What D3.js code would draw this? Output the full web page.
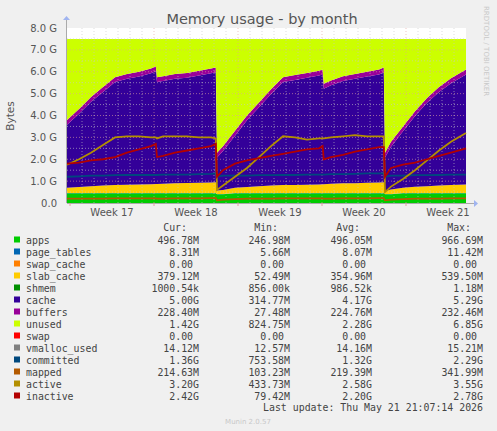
<!DOCTYPE html>
<html>
<head>
<meta charset="utf-8">
<script src="https://cdn.jsdelivr.net/npm/d3@7"></script>
<style>
  body { margin: 0; background: #f0f0f0; }
  text { font-family: 'DejaVu Sans', sans-serif; }
  .mono { font-family: 'DejaVu Sans Mono', monospace; font-size: 9.9px; fill: #444; }
</style>
</head>
<body>
<div class="container"></div>
<script>
// days since the start of the graph
const days = [0, 1, 2, 3, 4, 5, 6, 7, 7.4, 7.5, 8, 9, 10, 11, 12, 12.4, 12.5, 13, 14, 15, 16, 17, 18, 19, 20, 21, 21.3, 21.4, 22, 23, 24, 25, 26, 26.4, 26.5, 27, 28, 29, 30, 31, 32, 33.25];

// values in GB
const apps = [0.45, 0.45, 0.45, 0.45, 0.45, 0.45, 0.45, 0.45, 0.45, 0.45, 0.45, 0.45, 0.45, 0.45, 0.45, 0.45, 0.40, 0.40, 0.45, 0.45, 0.45, 0.45, 0.45, 0.45, 0.45, 0.45, 0.45, 0.45, 0.45, 0.45, 0.45, 0.45, 0.45, 0.45, 0.40, 0.40, 0.45, 0.45, 0.45, 0.45, 0.45, 0.45];
const pageTables = [0.008, 0.008, 0.008, 0.008, 0.008, 0.008, 0.008, 0.008, 0.008, 0.008, 0.008, 0.008, 0.008, 0.008, 0.008, 0.008, 0.006, 0.006, 0.008, 0.008, 0.008, 0.008, 0.008, 0.008, 0.008, 0.008, 0.008, 0.008, 0.008, 0.008, 0.008, 0.008, 0.008, 0.008, 0.006, 0.006, 0.008, 0.008, 0.008, 0.008, 0.008, 0.008];
const slabCache = [0.24, 0.27, 0.31, 0.34, 0.36, 0.38, 0.39, 0.40, 0.41, 0.41, 0.42, 0.44, 0.46, 0.47, 0.48, 0.49, 0.17, 0.19, 0.24, 0.27, 0.31, 0.34, 0.36, 0.37, 0.38, 0.39, 0.40, 0.40, 0.42, 0.44, 0.45, 0.47, 0.48, 0.49, 0.14, 0.21, 0.24, 0.28, 0.31, 0.34, 0.37, 0.39];
const cache = [2.88, 3.35, 3.86, 4.28, 4.71, 4.84, 4.93, 5.07, 5.16, 4.66, 4.70, 4.78, 4.81, 4.90, 4.99, 5.03, 1.50, 1.78, 2.38, 3.05, 3.61, 4.18, 4.71, 4.80, 4.89, 4.98, 5.02, 4.37, 4.50, 4.68, 4.77, 4.85, 4.94, 5.03, 1.53, 1.96, 2.58, 3.24, 3.81, 4.28, 4.65, 5.03];
const buffers = [0.22, 0.22, 0.22, 0.22, 0.22, 0.22, 0.22, 0.22, 0.22, 0.22, 0.22, 0.22, 0.22, 0.22, 0.22, 0.22, 0.22, 0.22, 0.22, 0.22, 0.22, 0.22, 0.22, 0.22, 0.22, 0.22, 0.22, 0.22, 0.22, 0.22, 0.22, 0.22, 0.22, 0.22, 0.22, 0.22, 0.22, 0.22, 0.22, 0.22, 0.22, 0.22];
const totalMem = 7.5;

const committed = [1.2, 1.22, 1.25, 1.25, 1.27, 1.28, 1.28, 1.28, 1.28, 1.28, 1.3, 1.3, 1.3, 1.32, 1.33, 1.35, 1.2, 1.25, 1.25, 1.25, 1.27, 1.27, 1.28, 1.28, 1.3, 1.3, 1.3, 1.3, 1.32, 1.32, 1.33, 1.35, 1.35, 1.35, 1.2, 1.25, 1.25, 1.27, 1.27, 1.28, 1.3, 1.3];
const mapped = [0.2, 0.2, 0.2, 0.2, 0.21, 0.21, 0.21, 0.21, 0.21, 0.2, 0.2, 0.21, 0.21, 0.21, 0.22, 0.22, 0.12, 0.15, 0.18, 0.2, 0.2, 0.2, 0.21, 0.21, 0.21, 0.21, 0.21, 0.2, 0.2, 0.21, 0.21, 0.21, 0.22, 0.22, 0.12, 0.15, 0.18, 0.2, 0.2, 0.2, 0.21, 0.21];
const active = [1.75, 2.0, 2.3, 2.65, 3.0, 3.05, 3.05, 3.0, 3.0, 2.95, 3.05, 3.05, 3.05, 3.0, 3.0, 2.95, 0.6, 0.8, 1.2, 1.6, 2.1, 2.6, 3.05, 3.0, 2.9, 2.95, 2.95, 2.95, 3.0, 3.05, 3.1, 3.05, 3.05, 3.05, 0.5, 0.75, 1.1, 1.5, 1.95, 2.4, 2.8, 3.2];
const inactive = [1.8, 1.85, 1.95, 2.0, 2.1, 2.3, 2.45, 2.6, 2.7, 2.1, 2.15, 2.3, 2.4, 2.5, 2.6, 2.7, 1.2, 1.5, 1.8, 1.95, 2.05, 2.15, 2.25, 2.35, 2.45, 2.5, 2.6, 2.0, 2.1, 2.2, 2.35, 2.45, 2.55, 2.55, 1.2, 1.6, 1.75, 1.85, 2.0, 2.15, 2.3, 2.5];

const weekLabels = ['Week 17', 'Week 18', 'Week 19', 'Week 20', 'Week 21'];
const weekLabelDays = [3.75, 10.75, 17.75, 24.75, 31.75];
const weekStartDays = [0.25, 7.25, 14.25, 21.25, 28.25];
const yTicks = [0, 1, 2, 3, 4, 5, 6, 7, 8];

const legendNames = ['apps', 'page_tables', 'swap_cache', 'slab_cache', 'shmem', 'cache', 'buffers', 'unused', 'swap', 'vmalloc_used', 'committed', 'mapped', 'active', 'inactive'];
const legendColors = ['#00cc00', '#0066b3', '#ff8000', '#ffcc00', '#008f00', '#330099', '#990099', '#ccff00', '#ff0000', '#808080', '#00487d', '#b35a00', '#b38f00', '#b30000'];
const legendCur = ['496.78M', '8.31M', '0.00 ', '379.12M', '1000.54k', '5.00G', '228.40M', '1.42G', '0.00 ', '14.12M', '1.36G', '214.63M', '3.20G', '2.42G'];
const legendMin = ['246.98M', '5.66M', '0.00 ', '52.49M', '856.00k', '314.77M', '27.48M', '824.75M', '0.00 ', '12.57M', '753.58M', '103.23M', '433.73M', '79.42M'];
const legendAvg = ['496.05M', '8.07M', '0.00 ', '354.96M', '986.52k', '4.17G', '224.76M', '2.28G', '0.00 ', '14.16M', '1.32G', '219.39M', '2.58G', '2.20G'];
const legendMax = ['966.69M', '11.42M', '0.00 ', '539.50M', '1.18M', '5.29G', '232.46M', '6.85G', '0.00 ', '15.21M', '2.29G', '341.99M', '3.55G', '2.78G'];

const width = 497;
const height = 431;
const plotL = 67, plotR = 466, plotT = 28, plotB = 203;

const svg = d3.select('.container').append('svg')
  .attr('width', width).attr('height', height);

const x = d3.scaleLinear().domain([0, 33.25]).range([plotL, plotR]);
const y = d3.scaleLinear().domain([0, 8]).range([plotB, plotT]);

svg.append('rect').attr('x', plotL).attr('y', plotT).attr('width', plotR - plotL).attr('height', plotB - plotT).attr('fill', '#fff');

// stacked areas
const rows = days.map((d, i) => ({
  day: d,
  apps: apps[i],
  page_tables: pageTables[i],
  slab_cache: slabCache[i],
  cache: cache[i],
  buffers: buffers[i],
  unused: totalMem - apps[i] - pageTables[i] - slabCache[i] - cache[i] - buffers[i]
}));
const keys = ['apps', 'page_tables', 'slab_cache', 'cache', 'buffers', 'unused'];
const keyColor = { apps: '#00cc00', page_tables: '#0066b3', slab_cache: '#ffcc00', cache: '#330099', buffers: '#990099', unused: '#ccff00' };
const stack = d3.stack().keys(keys)(rows);
const area = d3.area().x((d) => x(d.data.day)).y0((d) => y(d[0])).y1((d) => y(d[1]));
svg.append('g').selectAll('path').data(stack).join('path')
  .attr('d', area).attr('fill', (s) => keyColor[s.key]);

// grid
const grid = svg.append('g');
for (let v = 0.5; v < 8; v += 0.5) {
  const major = Number.isInteger(v);
  grid.append('line').attr('x1', plotL).attr('x2', plotR).attr('y1', y(v)).attr('y2', y(v))
    .attr('stroke', major ? '#e0a0a0' : '#c8c8c8').attr('stroke-width', 0.6).attr('stroke-dasharray', '1,2');
}
for (let d = 1.25; d < 33.25; d += 1) {
  const major = weekStartDays.some((w) => Math.abs(w - d) < 0.01);
  grid.append('line').attr('x1', x(d)).attr('x2', x(d)).attr('y1', plotT).attr('y2', plotB)
    .attr('stroke', major ? '#e0a0a0' : '#c8c8c8').attr('stroke-width', 0.6).attr('stroke-dasharray', '1,2');
}

// lines
const lineSeries = [
  { values: committed, color: '#00487d' },
  { values: mapped, color: '#b35a00' },
  { values: active, color: '#b38f00' },
  { values: inactive, color: '#b30000' }
];
const line = d3.line().x((d, i) => x(days[i])).y((d) => y(d));
svg.append('g').selectAll('path').data(lineSeries).join('path')
  .attr('d', (s) => line(s.values)).attr('fill', 'none')
  .attr('stroke', (s) => s.color).attr('stroke-width', 1.8);

// axes
svg.append('line').attr('x1', plotL).attr('x2', plotR + 8).attr('y1', plotB + 0.5).attr('y2', plotB + 0.5).attr('stroke', '#aaa');
svg.append('line').attr('x1', plotL - 0.5).attr('x2', plotL - 0.5).attr('y1', plotB).attr('y2', plotT - 8).attr('stroke', '#aaa');
svg.append('path').attr('d', `M${plotR + 8},${plotB - 3}L${plotR + 12},${plotB + 0.5}L${plotR + 8},${plotB + 4}Z`).attr('fill', '#a0b4f0');
svg.append('path').attr('d', `M${plotL - 4},${plotT - 8}L${plotL - 0.5},${plotT - 12}L${plotL + 3},${plotT - 8}Z`).attr('fill', '#a0b4f0');

svg.append('g').selectAll('text').data(yTicks).join('text')
  .attr('x', 57).attr('y', (d) => y(d) + 3.5).attr('text-anchor', 'end')
  .attr('font-size', 10).attr('fill', '#555').text((d) => d === 0 ? '0.0' : d.toFixed(1) + ' G');
svg.append('g').selectAll('line').data(weekStartDays).join('line')
  .attr('x1', (d) => x(d)).attr('x2', (d) => x(d)).attr('y1', plotB).attr('y2', plotB + 3).attr('stroke', '#e0a0a0');
svg.append('g').selectAll('text').data(weekLabels).join('text')
  .attr('x', (d, i) => x(weekLabelDays[i])).attr('y', 216).attr('text-anchor', 'middle')
  .attr('font-size', 10).attr('fill', '#555').text((d) => d);

svg.append('text').attr('x', 262).attr('y', 24).attr('text-anchor', 'middle')
  .attr('font-size', 14.5).attr('fill', '#555').text('Memory usage - by month');
svg.append('text').attr('transform', 'translate(14,116) rotate(-90)').attr('text-anchor', 'middle')
  .attr('font-size', 10.5).attr('fill', '#555').text('Bytes');
svg.append('text').attr('transform', 'translate(484,6) rotate(90)')
  .attr('font-size', 7).attr('fill', '#c8c8c8').text('RRDTOOL / TOBI OETIKER');
svg.append('text').attr('x', 248).attr('y', 424).attr('text-anchor', 'middle')
  .attr('font-size', 7).attr('fill', '#c8c8c8').text('Munin 2.0.57');

// legend
const lg = svg.append('g');
const cols = [{ x: 199, t: 'Cur:', v: legendCur }, { x: 290, t: 'Min:', v: legendMin }, { x: 372, t: 'Avg:', v: legendAvg }, { x: 483, t: 'Max:', v: legendMax }];
cols.forEach((c) => {
  lg.append('text').attr('class', 'mono').attr('x', c.x - 12).attr('y', 231).attr('text-anchor', 'end').text(c.t);
});
legendNames.forEach((n, i) => {
  const ry = 243.5 + i * 12;
  lg.append('rect').attr('x', 14).attr('y', ry - 7).attr('width', 6).attr('height', 6).attr('fill', legendColors[i]);
  lg.append('text').attr('class', 'mono').attr('x', 26).attr('y', ry).text(n);
  cols.forEach((c) => {
    lg.append('text').attr('class', 'mono').attr('x', c.x).attr('y', ry).attr('text-anchor', 'end')
      .attr('xml:space', 'preserve').text(c.v[i]);
  });
});
lg.append('text').attr('class', 'mono').attr('x', 483).attr('y', 411).attr('text-anchor', 'end')
  .text('Last update: Thu May 21 21:07:14 2026');
</script>
</body>
</html>
